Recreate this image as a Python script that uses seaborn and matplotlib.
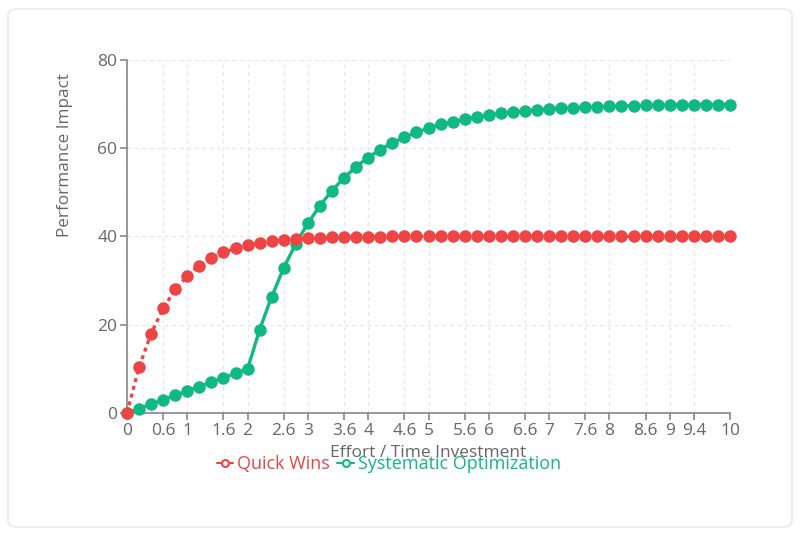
import matplotlib
matplotlib.use("Agg")
import matplotlib.pyplot as plt
import seaborn as sns
import pandas as pd
from matplotlib.lines import Line2D
from matplotlib.patches import FancyBboxPatch

effort = [0.0, 0.2, 0.4, 0.6, 0.8, 1.0, 1.2, 1.4, 1.6, 1.8, 2.0, 2.2, 2.4, 2.6, 2.8,
          3.0, 3.2, 3.4, 3.6, 3.8, 4.0, 4.2, 4.4, 4.6, 4.8, 5.0, 5.2, 5.4, 5.6, 5.8,
          6.0, 6.2, 6.4, 6.6, 6.8, 7.0, 7.2, 7.4, 7.6, 7.8, 8.0, 8.2, 8.4, 8.6, 8.8,
          9.0, 9.2, 9.4, 9.6, 9.8, 10.0]
quick_wins = [0.0, 10.4, 18.0, 23.7, 28.0, 31.1, 33.4, 35.1, 36.4, 37.3, 38.0, 38.5,
              38.9, 39.2, 39.4, 39.6, 39.7, 39.8, 39.8, 39.9, 39.9, 39.9, 40.0, 40.0,
              40.0, 40.0, 40.0, 40.0, 40.0, 40.0, 40.0, 40.0, 40.0, 40.0, 40.0, 40.0,
              40.0, 40.0, 40.0, 40.0, 40.0, 40.0, 40.0, 40.0, 40.0, 40.0, 40.0, 40.0,
              40.0, 40.0, 40.0]
systematic = [0.0, 1.0, 2.0, 3.0, 4.0, 5.0, 6.0, 7.0, 8.0, 9.0, 10.0, 18.9, 26.4,
              32.9, 38.4, 43.0, 47.0, 50.4, 53.3, 55.8, 57.9, 59.7, 61.2, 62.5, 63.6,
              64.6, 65.4, 66.0, 66.6, 67.1, 67.6, 67.9, 68.2, 68.5, 68.7, 68.9, 69.1,
              69.2, 69.3, 69.4, 69.5, 69.6, 69.6, 69.7, 69.7, 69.8, 69.8, 69.8, 69.9,
              69.9, 69.9]
x_ticks = [0, 0.6, 1, 1.6, 2, 2.6, 3, 3.6, 4, 4.6, 5, 5.6, 6, 6.6, 7, 7.6, 8, 8.6, 9, 9.4, 10]
x_tick_labels = ["0", "0.6", "1", "1.6", "2", "2.6", "3", "3.6", "4", "4.6", "5", "5.6",
                 "6", "6.6", "7", "7.6", "8", "8.6", "9", "9.4", "10"]
y_ticks = [0, 20, 40, 60, 80]
series_names = ["Quick Wins", "Systematic Optimization"]
RED = "#ef4444"
GREEN = "#10b981"

sns.set_theme(style="white")
plt.rcParams["font.family"] = ["Open Sans", "DejaVu Sans"]

df = pd.DataFrame({
    "effort": effort * 2,
    "impact": quick_wins + systematic,
    "series": [series_names[0]] * len(effort) + [series_names[1]] * len(effort),
})

fig = plt.figure(figsize=(8, 5.36), dpi=100)
fig.patch.set_facecolor("white")
card = FancyBboxPatch((8 / 800, 9 / 536), 784 / 800, 518 / 536,
                      boxstyle="round,pad=0,rounding_size=0.012",
                      transform=fig.transFigure, facecolor="white",
                      edgecolor="#e5e5e5", linewidth=1.0, zorder=-5)
fig.patches.append(card)

ax = fig.add_axes([127 / 800, 1 - 413 / 536, (730 - 127) / 800, (413 - 60) / 536])
ax.set_facecolor("none")
ax.set_zorder(2)

sns.lineplot(data=df[df["series"] == series_names[1]], x="effort", y="impact",
             color=GREEN, marker="o", markersize=9, markeredgewidth=0,
             linewidth=2.4, ax=ax, clip_on=False, zorder=3, legend=False)
sns.lineplot(data=df[df["series"] == series_names[0]], x="effort", y="impact",
             color=RED, marker="o", markersize=9, markeredgewidth=0,
             linewidth=2.4, ax=ax, clip_on=False, zorder=4, legend=False)
ax.lines[-1].set_linestyle((0, (1.2, 1.2)))

ax.set_xlim(0, 10)
ax.set_ylim(0, 80)
ax.set_xticks(x_ticks)
ax.set_xticklabels(x_tick_labels)
ax.set_yticks(y_ticks)

ax.grid(True, linestyle=(0, (3, 3)), color="#e6e6e6", linewidth=0.9)
ax.set_axisbelow(True)
for s in ["top", "right"]:
    ax.spines[s].set_visible(False)
for s in ["left", "bottom"]:
    ax.spines[s].set_color("#888888")
    ax.spines[s].set_linewidth(1.2)
ax.tick_params(axis="both", which="both", length=5, width=1.2, color="#888888",
               labelcolor="#666666", labelsize=12.5, pad=2, direction="out",
               bottom=True, left=True)

ax.set_xlabel("Effort / Time Investment", color="#666666", fontsize=12.5, va="center")
ax.xaxis.set_label_coords(0.5, (413 - 453) / 353)
ax.set_ylabel("Performance Impact", color="#666666", fontsize=12.3, va="center")
ax.yaxis.set_label_coords((65 - 127) / 603, (413 - 155) / 353)

handles = [
    Line2D([0], [0], color=RED, marker="o", markersize=5, markerfacecolor="white",
           markeredgecolor=RED, markeredgewidth=1.5, linewidth=1.5),
    Line2D([0], [0], color=GREEN, marker="o", markersize=5, markerfacecolor="white",
           markeredgecolor=GREEN, markeredgewidth=1.5, linewidth=1.5),
]
leg = fig.legend(handles, series_names, loc="center", bbox_to_anchor=(389 / 800, 1 - 464 / 536),
                 ncol=2, frameon=False, fontsize=13.0, handlelength=0.9,
                 handletextpad=0.25, columnspacing=0.4)
for txt, c in zip(leg.get_texts(), [RED, GREEN]):
    txt.set_color(c)

fig.savefig("out.png", dpi=100, facecolor="white")
